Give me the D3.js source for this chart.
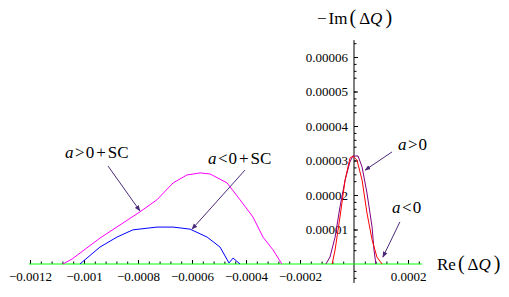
<!DOCTYPE html>
<html>
<head>
<meta charset="utf-8">
<script src="https://cdn.jsdelivr.net/npm/d3@7"></script>
<style>
  body { margin: 0; background: #fff; }
  svg { display: block; }
</style>
</head>
<body>
<svg width="509" height="297"></svg>
<script>
// Re(dQ) / -Im(dQ) of each curve
var scX = [-0.001078, -0.001044, -0.000941, -0.000793, -0.00073, -0.00067, -0.000619, -0.00057, -0.000533, -0.00047, -0.000422, -0.000374, -0.000337, -0.0003, -0.000267];
var scY = [0, 1.45e-6, 7.5e-6, 15.1e-6, 18.6e-6, 23.5e-6, 25.8e-6, 26.4e-6, 26.1e-6, 23.5e-6, 18.6e-6, 13.6e-6, 7.8e-6, 4.1e-6, 0];

var scNegX = [-0.001015, -0.000941, -0.000878, -0.000819, -0.00073, -0.00067, -0.000607, -0.000544, -0.000496, -0.000463, -0.000448, -0.000422];
var scNegY = [0, 4.9e-6, 7.8e-6, 9.9e-6, 10.7e-6, 10.7e-6, 10.1e-6, 7.8e-6, 4.9e-6, 0.3e-6, 1.7e-6, 0];

var posX = [-0.000104, -0.000089, -0.00007, -0.000052, -0.000033, -0.000015, -0.000004, 0.000015, 0.00003, 0.000048, 0.000067, 0.000074, 0.000081];
var posY = [0, 2.0e-6, 7.8e-6, 16.5e-6, 24.3e-6, 29.6e-6, 31.3e-6, 31.3e-6, 28.1e-6, 20.6e-6, 10.7e-6, 4.1e-6, 0];

var negX = [-0.000081, -0.00007, -0.000052, -0.000033, -0.000015, -0.000004, 0.000011, 0.00003, 0.000048, 0.000067, 0.000085, 0.000104];
var negY = [0, 4.1e-6, 13.6e-6, 24.3e-6, 30.7e-6, 31.3e-6, 30.1e-6, 24.3e-6, 14.8e-6, 7.0e-6, 2.0e-6, 0];

var zeroX = [-0.0012037, 0.000252];
var zeroY = [0, 0];

var xTicks = [-0.0012, -0.001, -0.0008, -0.0006, -0.0004, -0.0002, 0.0002];
var xTickLabels = ["\u22120.0012", "\u22120.001", "\u22120.0008", "\u22120.0006", "\u22120.0004", "\u22120.0002", "0.0002"];
var yTicks = [0.00001, 0.00002, 0.00003, 0.00004, 0.00005, 0.00006];
var yTickLabels = ["0.00001", "0.00002", "0.00003", "0.00004", "0.00005", "0.00006"];

var serif = "Liberation Serif";
var svg = d3.select("svg");

var x = d3.scaleLinear().domain([-0.0012, 0.0002]).range([30, 408]);
var y = d3.scaleLinear().domain([0, 0.00006]).range([264, 57]);

// minor ticks: 5 steps between majors
var xMinor = d3.range(-30, 7).map(function (i) { return i * 0.00004; })
  .filter(function (v, i) { return (i % 5 !== 0); });
var yMinor = d3.range(-2, 33).map(function (i) { return i * 0.000002; })
  .filter(function (v, i) { return ((i + 2) % 5 !== 0) && Math.abs(v) > 1e-9; });

// y axis line runs over the whole plot range
svg.append("line")
  .attr("x1", x(0)).attr("x2", x(0))
  .attr("y1", y(0.0000649)).attr("y2", y(-0.0000055))
  .attr("stroke", "#000").attr("stroke-width", 1);

var gx = svg.append("g").attr("transform", "translate(0," + y(0) + ")");
gx.call(d3.axisBottom(x).tickValues(xTicks)
  .tickFormat(function (d, i) { return xTickLabels[i]; })
  .tickSizeInner(-4).tickSizeOuter(0).tickPadding(8));
gx.append("g").call(d3.axisBottom(x).tickValues(xMinor).tickFormat("")
  .tickSizeInner(-2.5).tickSizeOuter(0));
gx.selectAll(".domain").remove();
gx.selectAll("text").attr("font-family", serif).attr("font-size", 13).attr("fill", "#000");

var gy = svg.append("g").attr("transform", "translate(" + x(0) + ",0)");
gy.call(d3.axisLeft(y).tickValues(yTicks)
  .tickFormat(function (d, i) { return yTickLabels[i]; })
  .tickSizeInner(-4).tickSizeOuter(0).tickPadding(6));
gy.append("g").call(d3.axisLeft(y).tickValues(yMinor).tickFormat("")
  .tickSizeInner(-2.5).tickSizeOuter(0));
gy.selectAll(".domain").remove();
gy.selectAll("text").attr("font-family", serif).attr("font-size", 13).attr("fill", "#000");

var line = d3.line()
  .x(function (d) { return x(d[0]); })
  .y(function (d) { return y(d[1]); });

function drawCurve(xs, ys, color) {
  svg.append("path")
    .datum(d3.zip(xs, ys))
    .attr("d", line)
    .attr("fill", "none")
    .attr("stroke", color)
    .attr("stroke-width", 1);
}

drawCurve(zeroX, zeroY, "#00ff00");
drawCurve(scX, scY, "#ff00ff");
drawCurve(scNegX, scNegY, "#0000ff");
drawCurve(posX, posY, "#800080");
drawCurve(negX, negY, "#ff0000");

// arrows and labels
var arrowColor = "#4b2a78";
svg.append("defs").append("marker")
  .attr("id", "head")
  .attr("viewBox", "0 0 10 10")
  .attr("refX", 9).attr("refY", 5)
  .attr("markerWidth", 6).attr("markerHeight", 6)
  .attr("markerUnits", "userSpaceOnUse")
  .attr("orient", "auto")
  .append("path").attr("d", "M0,1 L10,5 L0,9 Z").attr("fill", arrowColor);

var notes = [
  { op: ">", sc: true, tx: -0.00107, ty: 3.07e-5, from: [-0.000911, 2.84e-5], to: [-0.000793, 1.54e-5] },
  { op: "<", sc: true, tx: -0.000541, ty: 2.9e-5, from: [-0.000404, 2.72e-5], to: [-0.0006, 1.01e-5] },
  { op: ">", sc: false, tx: 0.000163, ty: 3.3e-5, from: [0.000141, 3.25e-5], to: [0.000041, 2.72e-5] },
  { op: "<", sc: false, tx: 0.000141, ty: 1.48e-5, from: [0.00017, 1.22e-5], to: [0.000107, 2.0e-6] }
];

notes.forEach(function (n) {
  svg.append("line")
    .attr("x1", x(n.from[0])).attr("y1", y(n.from[1]))
    .attr("x2", x(n.to[0])).attr("y2", y(n.to[1]))
    .attr("stroke", arrowColor).attr("stroke-width", 1)
    .attr("marker-end", "url(#head)");
  var t = svg.append("text")
    .attr("x", x(n.tx)).attr("y", y(n.ty))
    .attr("font-family", serif)
    .attr("font-size", 17).attr("fill", "#000");
  t.append("tspan").attr("font-style", "italic").text("a");
  t.append("tspan").attr("dx", 1.5).text(n.op);
  t.append("tspan").attr("dx", 1).text("0");
  if (n.sc) {
    t.append("tspan").attr("dx", 2).text("+");
    t.append("tspan").attr("dx", 2).text("SC");
  }
});

// axis labels
var re = svg.append("text").attr("x", 437).attr("y", 270)
  .attr("font-family", serif).attr("font-size", 17).attr("fill", "#000");
re.append("tspan").text("Re");
re.append("tspan").attr("dx", 2).attr("font-size", 20).text("(");
re.append("tspan").attr("dx", 3).text("\u0394");
re.append("tspan").attr("font-style", "italic").text("Q");
re.append("tspan").attr("dx", 3).attr("font-size", 20).text(")");

var im = svg.append("text").attr("x", 317).attr("y", 24)
  .attr("font-family", serif).attr("font-size", 17).attr("fill", "#000");
im.append("tspan").text("\u2212");
im.append("tspan").attr("dx", 2).text("Im");
im.append("tspan").attr("dx", 2).attr("font-size", 20).text("(");
im.append("tspan").attr("dx", 3).text("\u0394");
im.append("tspan").attr("font-style", "italic").text("Q");
im.append("tspan").attr("dx", 3).attr("font-size", 20).text(")");
</script>
</body>
</html>
